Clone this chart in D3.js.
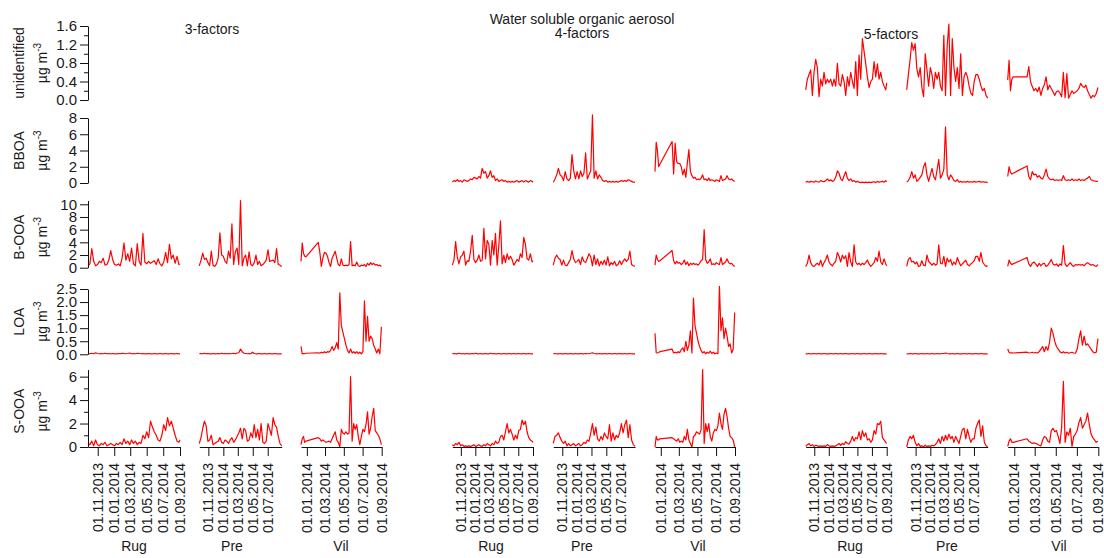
<!DOCTYPE html>
<html>
<head>
<meta charset="utf-8">
<script src="https://cdn.jsdelivr.net/npm/d3@7"></script>
<style>
  body { margin: 0; background: #fff; }
  svg text { font-family: "Liberation Sans", Arial, Helvetica, sans-serif; fill: #1a1a1a; }
</style>
</head>
<body>
<svg id="chart" width="1104" height="558"></svg>
<script>
// ---- sampling dates per site ----
const rugDates = ["2013-09-26","2013-10-03","2013-10-10","2013-10-17","2013-10-24","2013-10-31","2013-11-07","2013-11-14","2013-11-21","2013-11-28",
  "2013-12-05","2013-12-12","2013-12-19","2013-12-26","2014-01-02","2014-01-09","2014-01-16","2014-01-23","2014-01-30","2014-02-06",
  "2014-02-13","2014-02-20","2014-02-27","2014-03-06","2014-03-13","2014-03-20","2014-03-27","2014-04-03","2014-04-10","2014-04-17",
  "2014-04-24","2014-05-01","2014-05-08","2014-05-15","2014-05-22","2014-05-29","2014-06-05","2014-06-12","2014-06-19","2014-06-26",
  "2014-07-03","2014-07-10","2014-07-17","2014-07-24","2014-07-31","2014-08-07","2014-08-14","2014-08-21","2014-08-28","2014-09-01"];
const preDates = ["2013-09-25","2013-10-02","2013-10-09","2013-10-16","2013-10-23","2013-10-30","2013-11-06","2013-11-13","2013-11-20","2013-11-27",
  "2013-12-04","2013-12-11","2013-12-18","2013-12-25","2014-01-01","2014-01-08","2014-01-15","2014-01-22","2014-01-29","2014-02-05",
  "2014-02-12","2014-02-19","2014-02-26","2014-03-05","2014-03-12","2014-03-19","2014-03-26","2014-04-02","2014-04-09","2014-04-16",
  "2014-04-23","2014-04-30","2014-05-07","2014-05-14","2014-05-21","2014-05-28","2014-06-04","2014-06-11","2014-06-18","2014-06-25",
  "2014-07-02","2014-07-09","2014-07-16","2014-07-23","2014-07-30","2014-08-06","2014-08-13","2014-08-20","2014-08-27"];
const vilDates = ["2013-12-13","2013-12-17","2013-12-21","2013-12-25","2013-12-29",
  "2014-02-07","2014-02-12","2014-02-17","2014-02-22","2014-02-27","2014-03-04","2014-03-09","2014-03-14","2014-03-19","2014-03-24",
  "2014-03-29","2014-04-03","2014-04-08","2014-04-13","2014-04-18","2014-04-23","2014-04-28","2014-05-03","2014-05-08","2014-05-13",
  "2014-05-18","2014-05-23","2014-05-28","2014-06-02","2014-06-07","2014-06-12","2014-06-17","2014-06-22","2014-06-27","2014-07-02",
  "2014-07-07","2014-07-12","2014-07-17","2014-07-22","2014-07-27","2014-08-01","2014-08-06","2014-08-11","2014-08-16","2014-08-21",
  "2014-08-26","2014-08-31"];

// ---- categories ----
const sites = ["Rug", "Pre", "Vil"];
const factorNames = ["unidentified", "BBOA", "B-OOA", "LOA", "S-OOA"];
const solutionNames = ["3-factors", "4-factors", "5-factors"];

// ---- 3-factor solution (µg m-3) ----
const rug3BOOA = [0.3,0.6,3.0,1.0,0.3,0.5,1.0,0.8,1.5,0.4,0.5,1.2,2.7,1.3,0.5,0.4,0.6,0.3,1.5,3.9,1.2,2.2,1.0,3.1,0.6,0.3,3.8,1.0,0.4,5.4,0.9,0.6,1.0,0.7,0.9,1.1,0.5,1.4,0.6,0.3,0.9,2.4,0.8,3.7,1.4,2.0,0.7,1.8,0.5,0.6];
const rug3LOA = [0.03,0.02,0.04,0.02,0.06,0.03,0.02,0.03,0.02,0.04,0.02,0.03,0.02,0.03,0.02,0.02,0.03,0.02,0.04,0.03,0.02,0.03,0.05,0.02,0.03,0.02,0.04,0.03,0.02,0.03,0.02,0.02,0.03,0.02,0.02,0.03,0.02,0.02,0.03,0.02,0.02,0.03,0.02,0.02,0.03,0.02,0.02,0.03,0.02,0.02];
const rug3SOOA = [0.3,0.2,0.5,0.1,0.6,0.2,0.1,0.3,0.2,0.4,0.1,0.2,0.3,0.2,0.1,0.3,0.2,0.4,0.2,0.7,0.3,0.5,0.2,0.6,0.3,0.5,0.2,0.4,0.3,1.0,0.7,1.3,0.8,2.2,1.7,1.3,1.0,0.6,0.5,1.0,1.9,1.4,2.5,1.8,2.2,1.6,1.0,0.5,0.4,0.6];
const pre3BOOA = [0.3,1.2,2.3,1.3,1.5,0.8,0.3,2.6,0.4,0.2,0.6,1.5,5.5,2.0,1.8,1.0,0.7,2.6,1.5,6.9,0.5,2.5,3.1,0.5,10.6,0.3,1.5,2.0,0.3,2.5,0.5,0.3,0.8,2.0,0.5,1.0,0.3,0.5,0.8,1.2,2.8,1.0,1.1,1.2,0.8,3.0,0.5,0.4,0.2];
const pre3LOA = [0.02,0.03,0.02,0.04,0.02,0.03,0.02,0.02,0.03,0.02,0.02,0.03,0.02,0.04,0.02,0.03,0.02,0.03,0.02,0.03,0.04,0.02,0.05,0.06,0.2,0.1,0.04,0.03,0.02,0.03,0.02,0.08,0.03,0.02,0.02,0.03,0.02,0.02,0.03,0.02,0.02,0.03,0.02,0.02,0.03,0.02,0.02,0.02,0.02];
const pre3SOOA = [0.3,0.8,1.6,2.2,1.8,0.5,0.6,1.0,0.2,0.3,0.4,0.5,0.8,0.4,0.3,0.6,0.5,0.3,0.6,0.8,0.4,0.6,0.9,1.2,1.6,0.7,1.6,1.4,0.5,0.6,1.2,0.8,1.9,0.8,1.5,0.6,2.0,0.4,0.3,0.5,2.0,1.5,1.0,2.5,1.9,1.7,0.9,0.3,0.1];
const vil3BOOA = [1.0,3.9,2.3,1.8,1.7,4.0,2.5,0.2,1.5,2.4,2.3,1.8,0.8,0.2,1.5,2.0,2.6,1.5,0.5,0.3,1.4,0.4,0.3,0.4,0.3,0.5,4.1,0.3,0.4,0.3,0.9,0.3,0.2,0.4,0.3,0.5,0.2,0.7,0.4,0.8,0.5,0.7,0.4,0.5,0.3,0.4,0.2];
const vil3LOA = [0.3,0.02,0.03,0.02,0.04,0.06,0.04,0.08,0.05,0.1,0.06,0.1,0.08,0.15,0.3,0.15,0.25,0.45,0.2,2.35,1.1,0.85,0.6,0.35,0.15,0.05,0.2,0.05,0.1,0.04,0.1,0.03,0.08,0.02,0.1,2.05,0.5,1.45,0.5,0.7,0.6,0.35,0.2,0.05,0.2,0.02,1.05];
const vil3SOOA = [0.2,0.7,0.9,0.4,0.5,0.8,0.7,0.5,0.6,0.5,0.4,0.45,0.5,0.4,0.7,1.0,1.3,0.6,0.4,0.0,1.5,1.2,1.1,1.3,1.1,1.2,6.0,0.5,2.0,1.5,1.9,0.9,0.2,0.9,1.5,1.3,1.9,3.0,1.1,1.6,2.6,3.3,1.4,1.2,1.0,0.7,0.2];

// ---- 4-factor solution ----
const rug4BBOA = [0.1,0.3,0.2,0.4,0.2,0.3,0.1,0.4,0.3,0.2,0.3,0.5,0.4,0.7,0.6,0.5,0.8,0.6,1.8,1.2,1.4,0.6,0.9,1.5,0.7,0.9,0.3,0.5,0.2,0.3,0.4,0.2,0.3,0.1,0.2,0.1,0.2,0.1,0.2,0.3,0.1,0.2,0.3,0.1,0.3,0.2,0.1,0.3,0.2,0.1];
const rug4BOOA = [0.4,1.2,4.1,1.7,0.6,1.7,2.0,2.6,0.4,1.1,1.0,2.6,5.1,1.3,0.8,1.2,2.0,1.0,1.2,6.2,1.4,4.3,3.7,0.4,4.3,2.0,5.4,0.4,3.5,7.4,0.6,2.0,0.8,2.2,1.3,1.8,1.3,0.4,0.8,1.3,1.0,2.2,1.6,4.8,3.7,1.4,1.2,2.2,0.9,1.1];
const rug4LOA = [0.02,0.03,0.02,0.02,0.04,0.02,0.03,0.02,0.02,0.03,0.02,0.02,0.03,0.02,0.04,0.02,0.02,0.03,0.02,0.02,0.03,0.02,0.02,0.04,0.02,0.03,0.02,0.02,0.03,0.02,0.02,0.03,0.02,0.02,0.03,0.02,0.02,0.03,0.02,0.02,0.03,0.02,0.02,0.03,0.02,0.02,0.03,0.02,0.02,0.02];
const rug4SOOA = [0.2,0.1,0.3,0.2,0.4,0.1,0.2,0.05,0.1,0.05,0.1,0.05,0.1,0.2,0.05,0.1,0.2,0.1,0.05,0.2,0.1,0.3,0.2,0.1,0.3,0.2,0.5,0.3,0.4,0.9,1.0,0.6,1.3,2.0,1.2,1.5,1.1,0.6,1.0,0.7,1.4,1.5,2.3,1.9,2.2,1.3,0.8,0.6,0.5,0.4];
const pre4BBOA = [0.1,0.5,1.0,1.8,1.0,0.8,0.3,1.4,0.5,0.3,0.6,3.5,1.5,0.5,1.4,0.5,1.5,0.8,1.2,3.7,0.5,1.0,1.5,8.4,0.6,1.5,0.5,1.0,0.7,0.3,0.2,0.3,0.1,0.2,0.1,0.2,0.1,0.2,0.1,0.2,0.3,0.2,0.3,0.2,0.4,0.3,0.2,0.1,0.1];
const pre4BOOA = [0.4,1.5,2.0,1.5,1.3,0.4,1.2,0.4,0.3,0.8,1.3,2.7,1.4,0.8,1.0,1.3,0.5,1.7,1.0,0.8,1.5,2.2,1.7,0.3,2.0,0.5,1.4,0.3,1.0,0.5,1.2,0.4,1.7,0.3,0.8,0.5,1.0,0.3,0.5,1.1,0.5,1.0,1.4,1.0,1.3,2.6,0.5,0.3,0.2];
const pre4LOA = [0.02,0.03,0.02,0.02,0.03,0.02,0.02,0.03,0.02,0.02,0.03,0.02,0.02,0.03,0.02,0.02,0.03,0.02,0.02,0.03,0.02,0.03,0.04,0.06,0.03,0.02,0.02,0.03,0.02,0.02,0.03,0.02,0.02,0.03,0.02,0.02,0.03,0.02,0.02,0.03,0.02,0.02,0.03,0.02,0.02,0.03,0.02,0.02,0.02];
const pre4SOOA = [0.3,0.9,1.0,1.2,0.8,0.5,0.3,0.5,0.1,0.3,0.1,0.2,0.3,0.1,0.2,0.3,0.1,0.2,0.4,0.3,0.6,0.5,1.2,2.0,1.0,1.7,0.7,0.5,0.9,0.6,1.2,0.9,0.7,1.9,0.5,1.2,0.6,1.0,0.8,1.2,2.0,1.2,1.9,2.3,0.8,1.9,0.6,0.2,0.05];
const vil4BBOA = [1.4,5.0,4.0,2.0,2.3,5.1,1.1,4.9,2.6,2.4,2.4,2.0,1.0,1.7,0.7,2.5,4.1,1.4,0.9,0.6,0.7,0.4,0.5,0.4,0.6,1.0,0.4,0.5,0.3,0.6,0.3,0.4,0.3,0.2,0.4,0.3,0.2,0.9,0.3,0.4,0.5,0.9,0.5,0.4,0.5,0.3,0.2];
const vil4BOOA = [0.4,2.0,1.3,1.0,1.1,2.7,1.1,0.6,1.0,0.7,0.8,0.5,0.7,1.2,0.5,0.9,0.3,0.7,0.5,0.7,0.5,0.6,0.4,0.7,1.1,1.3,6.0,1.3,0.7,0.9,1.4,0.5,0.6,0.5,0.8,0.6,0.5,1.6,0.5,0.7,0.9,1.4,0.8,0.6,0.7,0.4,0.2];
const vil4LOA = [0.8,0.06,0.05,0.07,0.1,0.2,0.05,0.08,0.05,0.1,0.06,0.18,0.25,0.1,0.5,0.15,0.35,0.9,0.05,2.15,1.1,0.8,0.5,0.3,0.15,0.05,0.1,0.02,0.08,0.04,0.12,0.03,0.08,0.02,0.05,0.02,2.6,0.9,1.4,0.6,1.0,0.7,0.3,0.4,0.05,0.2,1.6];
const vil4SOOA = [0.0,0.9,0.6,0.6,0.7,0.8,0.7,0.6,0.5,0.7,0.4,0.5,0.4,0.9,0.6,1.5,0.6,0.3,0.0,0.9,1.0,1.3,1.2,1.1,1.5,6.6,0.3,2.0,1.3,2.0,0.9,0.5,1.2,1.5,1.4,1.8,2.9,2.0,1.5,2.8,3.3,2.6,1.6,0.9,0.8,0.6,0.0];

// ---- 5-factor solution ----
const rug5UNID = [0.22,0.45,0.55,0.65,0.1,0.6,0.88,0.7,0.07,0.45,0.3,0.6,0.35,0.45,0.38,0.45,0.3,0.45,0.3,0.79,0.35,0.3,0.55,0.4,0.1,0.5,0.3,0.6,0.4,0.25,0.83,0.1,0.97,0.45,1.33,1.05,0.78,0.5,0.27,0.4,0.45,0.83,0.5,0.78,0.45,0.6,0.4,0.3,0.22,0.37];
const rug5BBOA = [0.1,0.2,0.1,0.2,0.15,0.1,0.25,0.15,0.1,0.3,0.2,0.15,0.3,0.5,0.25,0.4,0.2,0.3,0.7,1.5,1.2,0.5,0.3,0.9,1.4,0.6,0.3,0.5,0.2,0.3,0.1,0.2,0.1,0.05,0.1,0.05,0.1,0.05,0.1,0.05,0.1,0.15,0.05,0.2,0.1,0.15,0.2,0.1,0.3,0.15];
const rug5BOOA = [0.2,0.7,2.0,0.8,0.3,0.2,0.5,0.7,0.4,1.2,0.2,0.8,1.3,2.0,0.9,0.5,0.3,0.7,1.0,2.4,1.8,0.9,2.0,1.4,1.9,0.2,2.4,0.9,0.2,3.6,0.9,0.5,0.7,0.4,0.7,0.5,0.8,1.2,0.6,0.2,0.5,0.8,1.6,1.0,2.6,0.9,0.5,1.4,0.6,0.3];
const rug5LOA = [0.02,0.02,0.03,0.02,0.02,0.03,0.02,0.02,0.03,0.02,0.02,0.03,0.02,0.02,0.02,0.03,0.02,0.02,0.03,0.02,0.02,0.03,0.02,0.02,0.03,0.02,0.02,0.02,0.03,0.02,0.02,0.03,0.02,0.02,0.02,0.03,0.02,0.02,0.03,0.02,0.02,0.02,0.03,0.02,0.02,0.03,0.02,0.02,0.02,0.02];
const rug5SOOA = [0.05,0.2,0.3,0.1,0.2,0.05,0.15,0.1,0.05,0.1,0.05,0.1,0.05,0.2,0.1,0.05,0.1,0.05,0.1,0.2,0.3,0.15,0.3,0.2,0.45,0.3,0.25,0.5,0.9,0.5,0.8,0.7,1.3,0.6,1.4,0.9,1.2,0.6,0.7,0.4,0.6,1.4,1.1,2.0,1.9,2.2,0.8,0.6,0.4,0.3];
const pre5UNID = [0.22,0.55,0.87,1.24,1.08,1.22,0.68,0.5,0.7,0.27,0.07,1.0,0.65,0.3,0.7,0.55,0.25,0.6,0.45,0.6,0.3,0.2,1.4,0.1,1.19,1.64,0.1,1.33,0.7,0.4,0.7,0.25,1.0,0.1,0.5,0.6,0.5,0.3,0.15,0.1,0.4,0.55,0.55,0.45,0.3,0.2,0.25,0.1,0.04];
const pre5BBOA = [0.1,0.3,0.7,1.4,0.6,1.0,0.2,0.4,0.7,1.0,2.0,2.5,1.0,0.2,1.0,1.8,0.8,0.4,1.6,2.9,0.6,1.0,1.7,6.9,1.0,0.4,1.0,0.7,0.3,0.2,0.4,0.1,0.2,0.1,0.15,0.1,0.2,0.1,0.15,0.1,0.2,0.1,0.15,0.2,0.1,0.15,0.1,0.1,0.05];
const pre5BOOA = [0.2,1.3,1.6,0.9,1.0,0.6,0.9,0.2,0.3,1.1,0.4,0.3,2.0,1.0,0.7,0.4,0.7,0.4,0.6,3.6,0.7,0.6,1.8,0.2,1.5,0.9,1.3,0.4,0.9,0.5,1.6,0.9,0.3,0.6,0.9,1.2,0.5,0.3,0.6,0.8,1.1,1.8,1.8,1.0,2.4,0.9,0.5,0.2,0.3];
const pre5LOA = [0.02,0.02,0.03,0.02,0.02,0.03,0.02,0.02,0.02,0.03,0.02,0.02,0.03,0.02,0.02,0.03,0.02,0.02,0.03,0.02,0.02,0.03,0.03,0.05,0.03,0.02,0.02,0.03,0.02,0.02,0.03,0.02,0.02,0.02,0.03,0.02,0.02,0.03,0.02,0.02,0.02,0.03,0.02,0.02,0.03,0.02,0.02,0.02,0.02];
const pre5SOOA = [0.0,0.6,0.9,0.7,1.0,0.4,0.1,0.3,0.05,0.1,0.02,0.15,0.05,0.1,0.05,0.15,0.1,0.2,0.4,0.7,0.3,0.9,0.5,1.0,0.6,1.1,0.7,0.9,0.4,0.9,0.6,0.3,0.9,1.5,1.6,0.7,1.5,0.9,0.4,0.7,0.7,1.6,2.0,2.3,0.9,1.8,0.4,0.1,0.02];
const vil5UNID = [0.43,0.86,0.2,0.45,0.5,0.5,0.72,0.4,0.29,0.2,0.25,0.18,0.28,0.1,0.25,0.33,0.5,0.22,0.32,0.25,0.18,0.1,0.18,0.2,0.15,0.07,0.6,0.05,0.57,0.04,0.12,0.2,0.14,0.17,0.2,0.25,0.36,0.3,0.27,0.32,0.2,0.12,0.04,0.1,0.07,0.14,0.27];
const vil5BBOA = [0.8,2.0,1.3,1.1,1.2,2.1,0.8,0.4,1.4,1.0,1.1,0.7,0.9,0.6,0.5,1.0,1.7,0.8,0.5,0.4,0.5,0.3,0.4,0.3,0.4,0.3,0.9,0.4,0.3,0.4,0.3,0.5,0.3,0.4,0.3,0.5,0.3,0.4,0.3,0.5,0.6,0.8,0.4,0.3,0.25,0.2,0.2];
const vil5BOOA = [0.2,1.2,0.7,0.5,0.6,1.6,0.6,0.2,0.7,0.9,0.6,0.2,0.7,0.3,0.6,0.7,0.2,0.4,0.8,1.3,0.6,0.4,0.6,0.2,0.6,0.4,3.5,0.6,0.2,0.5,0.8,0.4,0.2,0.5,0.4,0.5,0.4,0.5,0.3,0.6,0.8,0.6,0.4,0.5,0.3,0.2,0.5];
const vil5LOA = [0.2,0.08,0.05,0.06,0.05,0.08,0.05,0.06,0.08,0.05,0.07,0.05,0.1,0.2,0.3,0.1,0.3,0.15,0.45,1.0,0.8,0.5,0.3,0.2,0.1,0.05,0.1,0.05,0.08,0.04,0.06,0.08,0.05,0.04,0.2,0.6,0.9,0.35,0.7,0.35,0.4,0.3,0.2,0.1,0.05,0.08,0.6];
const vil5SOOA = [0.05,0.5,0.7,0.4,0.4,0.7,0.5,0.4,0.3,0.35,0.3,0.25,0.15,0.1,0.6,0.9,0.8,0.5,0.4,1.4,1.6,1.3,1.4,0.9,0.3,1.7,5.6,0.4,1.3,1.0,1.6,0.05,0.9,1.1,1.4,2.1,2.5,1.6,1.9,2.2,2.9,1.9,1.1,0.8,0.6,0.4,0.5];

// ---- axis tick values ----
const unidTicks = [0, 0.4, 0.8, 1.2, 1.6], unidMinor = [0.2, 0.6, 1.0, 1.4];
const bboaTicks = [0, 2, 4, 6, 8];
const booaTicks = [0, 2, 4, 6, 8, 10];
const loaTicks = [0, 0.5, 1.0, 1.5, 2.0, 2.5];
const sooaTicks = [0, 2, 4, 6], sooaMinor = [1, 3, 5];
const rugTicks = ["2013-11-01","2014-01-01","2014-03-01","2014-05-01","2014-07-01","2014-09-01"];
const preTicks = ["2013-11-01","2014-01-01","2014-03-01","2014-05-01","2014-07-01"];
const vilTicks = ["2014-01-01","2014-03-01","2014-05-01","2014-07-01","2014-09-01"];

// ---- assembly ----
const parse = d3.utcParse("%Y-%m-%d");
const fmtDate = d3.utcFormat("%d.%m.%Y");
const siteDates = { Rug: rugDates.map(parse), Pre: preDates.map(parse), Vil: vilDates.map(parse) };
const siteDomain = {
  Rug: [parse("2013-09-26"), parse("2014-09-01")],
  Pre: [parse("2013-09-25"), parse("2014-08-27")],
  Vil: [parse("2013-12-13"), parse("2014-09-01")]
};
const siteTicks = { Rug: rugTicks.map(parse), Pre: preTicks.map(parse), Vil: vilTicks.map(parse) };

const rows = [
  { name: factorNames[0], ticks: unidTicks, minor: unidMinor, max: 1.6, zero: 100, top: 26, fmt: d3.format(".1f") },
  { name: factorNames[1], ticks: bboaTicks, minor: [], max: 8, zero: 183, top: 118, fmt: d3.format("d") },
  { name: factorNames[2], ticks: booaTicks, minor: [], max: 10.6, zero: 267.7, top: 200.5, fmt: d3.format("d") },
  { name: factorNames[3], ticks: loaTicks, minor: [], max: 2.5, zero: 354.3, top: 289, fmt: d3.format(".1f") },
  { name: factorNames[4], ticks: sooaTicks, minor: sooaMinor, max: 6.6, zero: 447, top: 369.6, fmt: d3.format("d") }
];
rows.forEach(r => { r.y = d3.scaleLinear().domain([0, r.max]).range([r.zero, r.top]); });

const solutions = [
  { title: solutionNames[0],
    panels: { Rug: [88, 180], Pre: [199.3, 281.7], Vil: [301, 381.7] },
    labelX: { Rug: 134, Pre: 232, Vil: 341 },
    series: {
      "B-OOA": { Rug: rug3BOOA, Pre: pre3BOOA, Vil: vil3BOOA },
      "LOA":   { Rug: rug3LOA,  Pre: pre3LOA,  Vil: vil3LOA },
      "S-OOA": { Rug: rug3SOOA, Pre: pre3SOOA, Vil: vil3SOOA } } },
  { title: solutionNames[1],
    panels: { Rug: [452.3, 533], Pre: [553.3, 635], Vil: [655, 735] },
    labelX: { Rug: 491, Pre: 582, Vil: 698 },
    series: {
      "BBOA":  { Rug: rug4BBOA, Pre: pre4BBOA, Vil: vil4BBOA },
      "B-OOA": { Rug: rug4BOOA, Pre: pre4BOOA, Vil: vil4BOOA },
      "LOA":   { Rug: rug4LOA,  Pre: pre4LOA,  Vil: vil4LOA },
      "S-OOA": { Rug: rug4SOOA, Pre: pre4SOOA, Vil: vil4SOOA } } },
  { title: solutionNames[2],
    panels: { Rug: [805.7, 886.7], Pre: [906.7, 987.7], Vil: [1007.7, 1098.3] },
    labelX: { Rug: 850, Pre: 947, Vil: 1059 },
    series: {
      "unidentified": { Rug: rug5UNID, Pre: pre5UNID, Vil: vil5UNID },
      "BBOA":  { Rug: rug5BBOA, Pre: pre5BBOA, Vil: vil5BBOA },
      "B-OOA": { Rug: rug5BOOA, Pre: pre5BOOA, Vil: vil5BOOA },
      "LOA":   { Rug: rug5LOA,  Pre: pre5LOA,  Vil: vil5LOA },
      "S-OOA": { Rug: rug5SOOA, Pre: pre5SOOA, Vil: vil5SOOA } } }
];

const svg = d3.select("#chart");
const FONT = "'Liberation Sans', Arial, Helvetica, sans-serif";

// ---- time series lines ----
const plot = svg.append("g").attr("class", "lines");
solutions.forEach(sol => {
  rows.forEach(row => {
    const bySite = sol.series[row.name];
    if (!bySite) return;
    sites.forEach(site => {
      const x = d3.scaleUtc().domain(siteDomain[site]).range(sol.panels[site]);
      const pts = siteDates[site].map((d, i) => ({ date: d, v: bySite[site][i] }));
      const line = d3.line().x(d => x(d.date)).y(d => row.y(d.v));
      plot.append("path")
        .datum(pts)
        .attr("d", line)
        .attr("fill", "none")
        .attr("stroke", "#ff0000")
        .attr("stroke-width", 1.2)
        .attr("stroke-linejoin", "round");
    });
  });
});

// ---- y axes (left column) ----
rows.forEach(row => {
  const g = svg.append("g").attr("transform", "translate(88,0)")
    .call(d3.axisLeft(row.y).tickValues(row.ticks).tickSize(8).tickSizeOuter(0).tickPadding(3).tickFormat(row.fmt));
  g.attr("font-size", 15).attr("font-family", FONT);
  g.selectAll("line, path").attr("stroke", "#111");
  g.selectAll("text").attr("fill", "#1a1a1a");
  if (row.minor.length) {
    const m = svg.append("g").attr("transform", "translate(88,0)")
      .call(d3.axisLeft(row.y).tickValues(row.minor).tickSize(4).tickFormat(""));
    m.select(".domain").remove();
    m.selectAll("line").attr("stroke", "#111");
  }
  // two-line axis title, rotated
  const cy = (row.zero + row.top) / 2 + (row.name === "B-OOA" || row.name === "S-OOA" ? 3 : 0);
  svg.append("text")
    .attr("transform", `translate(24,${cy}) rotate(-90)`)
    .attr("text-anchor", "middle").attr("font-size", 14)
    .text(row.name);
  const unit = svg.append("text")
    .attr("transform", `translate(47,${cy}) rotate(-90)`)
    .attr("text-anchor", "middle").attr("font-size", 14);
  unit.append("tspan").text("µg m");
  unit.append("tspan").attr("dy", "-0.6em").attr("font-size", 10).text("-3");
});

// ---- x axes (bottom row) and site labels ----
const axisY = 447;
solutions.forEach(sol => {
  sites.forEach(site => {
    const x = d3.scaleUtc().domain(siteDomain[site]).range(sol.panels[site]);
    const g = svg.append("g").attr("transform", `translate(0,${axisY})`)
      .call(d3.axisBottom(x).tickValues(siteTicks[site]).tickSize(9).tickSizeOuter(0).tickFormat(""));
    g.selectAll("line, path").attr("stroke", "#111");
    siteTicks[site].forEach(t => {
      svg.append("text")
        .attr("transform", `translate(${x(t)},${axisY + 16}) rotate(-90)`)
        .attr("text-anchor", "end").attr("dy", "0.35em")
        .attr("font-size", 14)
        .text(fmtDate(t));
    });
    svg.append("text")
      .attr("x", sol.labelX[site]).attr("y", 551)
      .attr("text-anchor", "middle").attr("font-size", 14)
      .text(site);
  });
});

// ---- titles ----
svg.append("text").attr("x", 212).attr("y", 34).attr("text-anchor", "middle").attr("font-size", 14).text(solutionNames[0]);
svg.append("text").attr("x", 582).attr("y", 24).attr("text-anchor", "middle").attr("font-size", 14).text("Water soluble organic aerosol");
svg.append("text").attr("x", 582).attr("y", 38).attr("text-anchor", "middle").attr("font-size", 14).text(solutionNames[1]);
svg.append("text").attr("x", 891).attr("y", 39).attr("text-anchor", "middle").attr("font-size", 14).text(solutionNames[2]);
</script>
</body>
</html>
